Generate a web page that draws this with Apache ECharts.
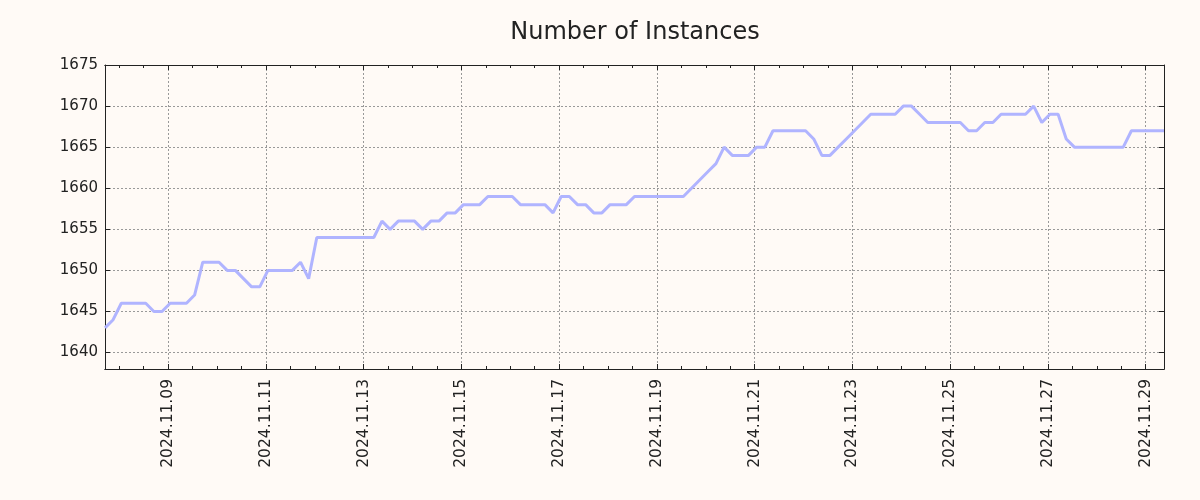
<!DOCTYPE html>
<html><head><meta charset="utf-8">
<script src="https://cdn.jsdelivr.net/npm/echarts@6/dist/echarts.min.js"></script>
<style>html,body{margin:0;padding:0;background:#fffaf6;}#c{width:1200px;height:500px;}</style>
</head><body><div id="c"></div>
<script>
const chartTitle = 'Number of Instances';
const startTime = '2024-11-07T17:00:00Z';
const stepHours = 4;
const instances = [
  1643,1644,1646,1646,1646,1646,1645,1645,1646,1646,
  1646,1647,1651,1651,1651,1650,1650,1649,1648,1648,
  1650,1650,1650,1650,1651,1649,1654,1654,1654,1654,
  1654,1654,1654,1654,1656,1655,1656,1656,1656,1655,
  1656,1656,1657,1657,1658,1658,1658,1659,1659,1659,
  1659,1658,1658,1658,1658,1657,1659,1659,1658,1658,
  1657,1657,1658,1658,1658,1659,1659,1659,1659,1659,
  1659,1659,1660,1661,1662,1663,1665,1664,1664,1664,
  1665,1665,1667,1667,1667,1667,1667,1666,1664,1664,
  1665,1666,1667,1668,1669,1669,1669,1669,1670,1670,
  1669,1668,1668,1668,1668,1668,1667,1667,1668,1668,
  1669,1669,1669,1669,1670,1668,1669,1669,1666,1665,
  1665,1665,1665,1665,1665,1665,1667,1667,1667,1667,
  1667
];
const yMin = 1638, yMax = 1675, yStep = 5;

const HOUR = 3600000, DAY = 24 * HOUR;
const t0 = Date.parse(startTime);
// x in days since 1970-01-01 UTC
const days = instances.map((_, i) => (t0 + i * stepHours * HOUR) / DAY);
const seriesData = instances.map((v, i) => [days[i], v]);
const xMin = days[0], xMax = days[days.length - 1];
const pad = n => (n < 10 ? '0' : '') + n;
const fmtDate = v => {
  const d = new Date(Math.round(v * DAY));
  return d.getUTCFullYear() + '.' + pad(d.getUTCMonth() + 1) + '.' + pad(d.getUTCDate());
};
const isMult = (v, m) => Math.abs(v / m - Math.round(v / m)) < 1e-6;
const FONT = 'DejaVu Sans';
const axisColor = '#222';
const gridLine = { show: true, lineStyle: { color: '#999', type: [2, 2], width: 1 } };

function xAx(pos, splitNumber, len, labels, split) {
  return {
    type: 'value', position: pos, min: xMin, max: xMax, splitNumber: splitNumber, scale: true,
    axisLine: { show: true, onZero: false, lineStyle: { color: axisColor, width: 1 } },
    axisTick: { show: true, inside: true, length: len, lineStyle: { color: axisColor } },
    axisLabel: labels ? {
      show: true, rotate: 90, margin: 10, fontFamily: FONT, fontSize: 15.5, color: '#222',
      showMinLabel: false, showMaxLabel: false,
      formatter: v => (isMult(v, 2) ? fmtDate(v) : '')
    } : { show: false },
    splitLine: split ? gridLine : { show: false }
  };
}
function yAx(pos, labels, split) {
  return {
    type: 'value', position: pos, min: yMin, max: yMax, splitNumber: 7, scale: true,
    axisLine: { show: true, onZero: false, lineStyle: { color: axisColor, width: 1 } },
    axisTick: { show: true, inside: true, length: 5, lineStyle: { color: axisColor } },
    axisLabel: labels ? {
      show: true, margin: 7, fontFamily: FONT, fontSize: 15, color: '#222',
      showMinLabel: false,
      formatter: v => (isMult(v, yStep) ? String(v) : '')
    } : { show: false },
    splitLine: split ? gridLine : { show: false }
  };
}

const chart = echarts.init(document.getElementById('c'), null, { renderer: 'canvas' });
chart.setOption({
  backgroundColor: '#fffaf6',
  animation: false,
  title: {
    text: chartTitle, left: 630, textAlign: 'center', top: 16,
    textStyle: { fontFamily: FONT, fontSize: 24, fontWeight: 'normal', color: '#222' }
  },
  grid: { left: 105, right: 36, top: 65, bottom: 131, containLabel: false },
  xAxis: [
    xAx('bottom', 11, 5, true, true),
    xAx('top', 11, 5, false, false),
    xAx('bottom', 43, 3, false, false),
    xAx('top', 43, 3, false, false)
  ],
  yAxis: [
    yAx('left', true, true),
    yAx('right', false, false)
  ],
  series: [{
    type: 'line', xAxisIndex: 0, yAxisIndex: 0, data: seriesData,
    showSymbol: false, symbol: 'none',
    lineStyle: { color: '#b0b4ff', width: 3 },
    itemStyle: { color: '#b0b4ff' }
  }]
});
</script></body></html>
